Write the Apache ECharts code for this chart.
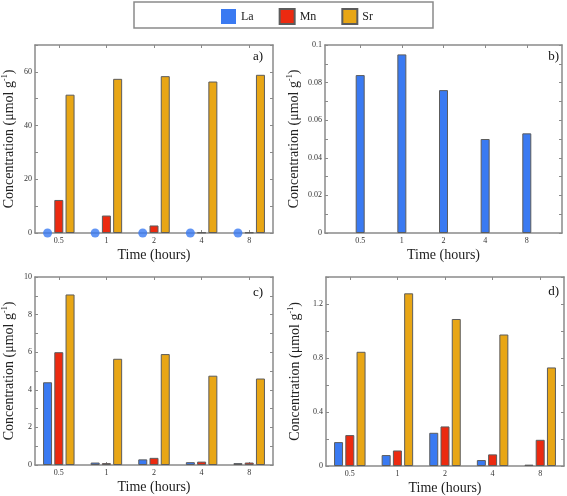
<!DOCTYPE html>
<html>
<head>
<meta charset="utf-8">
<script src="https://cdn.jsdelivr.net/npm/echarts@6/dist/echarts.min.js"></script>
<style>html,body{margin:0;padding:0;background:#fff}#c{width:567px;height:496px}</style>
</head>
<body>
<div id="c"></div>
<script>
// ---- data ----
const categories = ['0.5', '1', '2', '4', '8'];
const seriesNames = ['La', 'Mn', 'Sr'];
// panel a)
const laA = [0, 0, 0, 0, 0];
const mnA = [12.3, 6.5, 2.8, 0.2, 0.2];
const srA = [51.5, 57.4, 58.4, 56.4, 58.9];
// panel b)
const laB = [0.084, 0.095, 0.076, 0.050, 0.053];
// panel c)
const laC = [4.4, 0.13, 0.3, 0.15, 0.1];
const mnC = [6.0, 0.1, 0.38, 0.18, 0.13];
const srC = [9.07, 5.65, 5.9, 4.75, 4.6];
// panel d)
const laD = [0.177, 0.081, 0.246, 0.044, 0.01];
const mnD = [0.229, 0.115, 0.293, 0.086, 0.194];
const srD = [0.846, 1.279, 1.089, 0.974, 0.730];
// y-axis ranges: [max, tick step, label step]
const yA = [70, 10, 20];
const yB = [0.1, 0.01, 0.02];
const yC = [10, 1, 2];
const yD = [1.4, 0.2, 0.4];
const panelLabels = ['a)', 'b)', 'c)', 'd)'];

// ---- styles ----
const FONT = '"Liberation Serif", "DejaVu Serif", serif';
const COLORS = {La: '#3a7af2', Mn: '#ec2a10', Sr: '#e8a615'};
const AXIS = '#8a8a8a';
const BORDER = '#5c5c5c';

const grids = [
  {left: 32, top: 45, width: 241, height: 188},
  {left: 325, top: 45, width: 237, height: 188},
  {left: 32, top: 277, width: 241, height: 188},
  {left: 326, top: 277, width: 238, height: 189}
];
const yCfg = [yA, yB, yC, yD];
const nameGaps = [18, 23, 18, 23];

const xAxes = [], yAxes = [], series = [];
function tickFmt(step) {
  return function (v) {
    const r = v / step;
    if (Math.abs(r - Math.round(r)) < 1e-6) return String(+v.toFixed(4));
    return '';
  };
}
grids.forEach((g, gi) => {
  const valueX = gi === 1;
  [false, true].forEach(top => {
    const ax = {
      gridIndex: gi,
      position: top ? 'top' : 'bottom',
      axisLine: {show: true, onZero: false, lineStyle: {color: AXIS, width: 1.5}},
      axisTick: {show: true, inside: true, length: 3, lineStyle: {color: AXIS}},
      axisLabel: {show: !top, fontFamily: FONT, fontSize: 8, color: '#333', margin: 4},
      splitLine: {show: false},
      name: top ? '' : 'Time (hours)',
      nameLocation: 'middle',
      nameGap: 15,
      nameTextStyle: {fontFamily: FONT, fontSize: 14, color: '#222'}
    };
    if (valueX) {
      ax.type = 'value';
      ax.min = -0.845; ax.max = 4.845;
      ax.axisLabel.customValues = categories.map((c, i) => i);
      ax.axisLabel.formatter = v => categories[Math.round(v)];
      ax.axisTick.customValues = categories.map((c, i) => i);
    } else {
      ax.type = 'category';
      ax.data = categories;
      ax.axisTick.alignWithLabel = true;
    }
    xAxes.push(ax);
  });
  const yc = yCfg[gi];
  [false, true].forEach(right => {
    yAxes.push({
      type: 'value', gridIndex: gi, position: right ? 'right' : 'left',
      min: 0, max: yc[0], interval: yc[1],
      axisLine: {show: true, onZero: false, lineStyle: {color: AXIS, width: 1.5}},
      axisTick: {show: true, inside: true, length: 3, lineStyle: {color: AXIS}},
      axisLabel: {show: !right, fontFamily: FONT, fontSize: 8, color: '#333', margin: 3,
                  formatter: tickFmt(yc[2])},
      splitLine: {show: false},
      name: right ? '' : 'Concentration (μmol g{sup|-1})',
      nameLocation: 'middle', nameGap: nameGaps[gi],
      nameTextStyle: {fontFamily: FONT, fontSize: 14, color: '#222',
        rich: {sup: {fontFamily: FONT, fontSize: 8, color: '#222', verticalAlign: 'top', padding: [0, 0, 8, 0]}}}
    });
  });
});

function bar(name, gi, data, extra) {
  return Object.assign({
    type: 'bar', name: name,
    xAxisIndex: gi * 2, yAxisIndex: gi * 2,
    data: data, barWidth: 9, barGap: '25%',
    itemStyle: {color: COLORS[name], borderColor: BORDER, borderWidth: 1},
    silent: true, animation: false
  }, extra || {});
}
// panel a
series.push(bar('La', 0, laA, {itemStyle: {color: COLORS.La, borderWidth: 0}}));
series.push(bar('Mn', 0, mnA));
series.push(bar('Sr', 0, srA));
series.push({
  type: 'scatter', name: 'La', xAxisIndex: 0, yAxisIndex: 0,
  data: laA, symbol: 'circle', symbolSize: 9, symbolOffset: [-11.25, 0],
  itemStyle: {color: COLORS.La}, clip: false, z: 5, silent: true, animation: false
});
// panel b
series.push(bar('La', 1, laB.map((v, i) => [i, v])));
// panel c
series.push(bar('La', 2, laC));
series.push(bar('Mn', 2, mnC));
series.push(bar('Sr', 2, srC));
// panel d
series.push(bar('La', 3, laD));
series.push(bar('Mn', 3, mnD));
series.push(bar('Sr', 3, srD));

const letterPos = [[263, 57], [559, 57], [263, 293], [559, 292]];
const graphics = [
  {type: 'rect', shape: {x: 134, y: 2, width: 299, height: 26},
   style: {fill: 'none', stroke: '#8a8a8a', lineWidth: 1.5}, silent: true}
];
panelLabels.forEach((t, i) => {
  graphics.push({type: 'text', x: letterPos[i][0], y: letterPos[i][1],
    style: {text: t, font: '13px ' + FONT, fill: '#111', textAlign: 'right', textVerticalAlign: 'middle'}, silent: true});
});

const chart = echarts.init(document.getElementById('c'), null, {renderer: 'canvas'});
chart.setOption({
  backgroundColor: '#fff',
  animation: false,
  legend: {
    data: seriesNames, left: 221, top: 8, padding: 0, icon: 'rect', itemWidth: 15, itemHeight: 15, itemGap: 25,
    textStyle: {fontFamily: FONT, fontSize: 12, color: '#222'},
    selectedMode: false
  },
  grid: grids.map(g => Object.assign({containLabel: false}, g)),
  xAxis: xAxes,
  yAxis: yAxes,
  series: series,
  graphic: graphics
});
</script>
</body>
</html>
